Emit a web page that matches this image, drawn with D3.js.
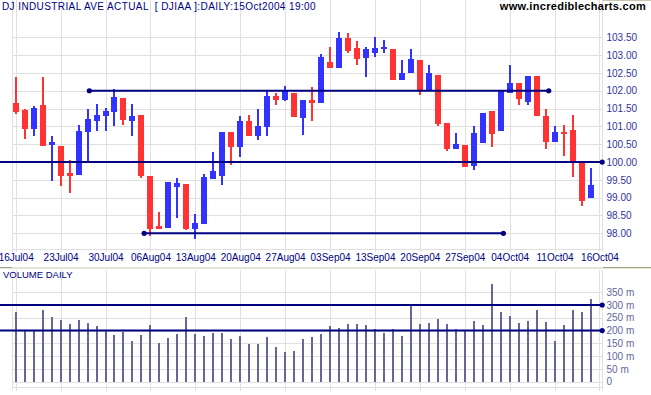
<!DOCTYPE html>
<html>
<head>
<meta charset="utf-8">
<script src="https://cdn.jsdelivr.net/npm/d3@7"></script>
<style>
    body { margin: 0; background: #fff; }
    svg { display: block; font-family: Arial, "Liberation Sans", sans-serif; }
</style>
</head>
<body>
<svg id="chart" width="651" height="395"></svg>
<script>
// trading day index of each week gridline + its label
const tickIndex = [0, 5, 10, 15, 20, 25, 30, 35, 40, 45, 50, 55, 60, 65];
const tickLabels = ["16Jul04", "23Jul04", "30Jul04", "06Aug04", "13Aug04", "20Aug04", "27Aug04",
    "03Sep04", "13Sep04", "20Sep04", "27Sep04", "04Oct04", "11Oct04", "16Oct04"];

// DJIA / 100, daily, 16 Jul 2004 - 15 Oct 2004
const opens = [101.65, 101.46, 100.94, 101.60, 100.47, 100.45, 99.69, 99.64, 100.83, 101.14,
    101.28, 101.39, 101.80, 101.16, 101.31, 99.61, 98.21, 98.16, 99.31, 99.39,
    98.12, 98.26, 99.53, 99.61, 100.85, 100.41, 101.14, 100.74, 100.97, 101.86,
    101.73, 101.95, 101.23, 101.74, 101.65, 102.80, 102.65, 103.48, 103.20, 102.91,
    103.07, 103.17, 103.18, 102.31, 102.49, 102.87, 102.03, 102.45, 101.09, 100.37,
    100.48, 99.90, 100.54, 101.42, 100.86, 101.95, 102.21, 101.68, 102.42, 101.30,
    100.57, 100.84, 100.90, 100.03, 98.98];
const highs = [102.40, 101.49, 101.58, 102.40, 100.73, 100.45, 100.06, 101.04, 101.49, 101.63,
    101.51, 102.05, 101.80, 101.63, 101.31, 99.61, 98.60, 99.45, 99.56, 99.39,
    98.54, 99.67, 100.27, 100.85, 100.85, 101.30, 101.32, 101.49, 101.98, 101.94,
    102.14, 101.95, 101.75, 102.11, 103.03, 103.23, 103.66, 103.63, 103.40, 103.22,
    103.51, 103.43, 103.18, 102.85, 103.18, 102.87, 102.73, 102.45, 101.09, 100.82,
    100.48, 101.01, 101.37, 101.44, 102.00, 102.73, 102.23, 102.42, 102.42, 101.49,
    101.00, 101.04, 101.31, 100.03, 99.84];
const lows = [101.36, 100.66, 100.74, 100.46, 99.48, 99.33, 99.14, 99.64, 99.97, 100.87,
    100.87, 101.02, 101.04, 100.72, 99.56, 97.93, 98.13, 98.16, 98.44, 98.09,
    97.84, 98.26, 99.53, 99.36, 99.92, 100.14, 100.72, 100.62, 100.72, 101.59,
    101.70, 101.25, 100.77, 101.14, 101.65, 102.63, 102.65, 103.07, 102.71, 102.40,
    102.96, 103.07, 102.31, 102.31, 102.49, 101.89, 102.03, 101.00, 100.31, 100.37,
    99.87, 99.78, 100.54, 100.41, 100.86, 101.95, 101.60, 101.60, 101.28, 100.37,
    100.57, 100.18, 99.59, 98.77, 98.98];
const closes = [101.39, 100.94, 101.51, 100.46, 100.55, 99.62, 99.62, 100.87, 101.20, 101.32,
    101.44, 101.82, 101.18, 101.30, 99.62, 98.13, 98.13, 99.45, 99.40, 98.12,
    98.29, 99.57, 99.75, 100.85, 100.41, 101.14, 100.72, 101.00, 101.84, 101.73,
    102.01, 101.25, 101.75, 101.67, 102.95, 102.63, 103.48, 103.12, 102.88, 103.17,
    103.20, 103.22, 102.31, 102.50, 102.90, 102.03, 102.49, 101.07, 100.36, 100.50,
    99.87, 100.81, 101.37, 100.79, 102.00, 102.21, 101.77, 102.42, 101.28, 100.55,
    100.84, 100.78, 100.01, 98.92, 99.36];

// volume, millions
const volumes = [272, 202, 202, 280, 253, 241, 226, 241, 229, 218,
    202, 183, 196, 159, 183, 222, 151, 171, 186, 253,
    186, 179, 190, 190, 167, 179, 147, 147, 175, 136,
    115, 120, 167, 175, 186, 218, 210, 226, 226, 222,
    206, 190, 206, 179, 302, 226, 229, 245, 226, 206,
    202, 237, 222, 382, 272, 257, 229, 237, 280, 233,
    159, 222, 280, 272, 323];

const priceTicks = [98, 98.5, 99, 99.5, 100, 100.5, 101, 101.5, 102, 102.5, 103, 103.5];
const volTicks = [0, 50, 100, 150, 200, 250, 300, 350];

// horizontal lines drawn on the chart (from / to in trading day index)
const priceLines = [
    {value: 102, from: 8.2, to: 59.35, startDot: true},
    {value: 100, from: -1.75, to: 65.3, startDot: false},
    {value: 98, from: 14.3, to: 54.3, startDot: true}
];
const volLines = [
    {value: 300, from: -1.75, to: 65.3, startDot: false},
    {value: 200, from: -1.75, to: 65.3, startDot: false}
];

const navy = "#000080";
const grid = "#e0e0e0";
const plotLeft = 12.5, plotRight = 602.5;
const priceBottom = 249, volTop = 270, volBottom = 386.5;

var svg = d3.select("#chart");

var x = d3.scaleLinear().domain([0, 64]).range([15.7, 590.5]);
var yPrice = d3.scaleLinear().domain([98, 103.5]).range([233.3, 37.3]);
var yVol = d3.scaleLinear().domain([0, 350]).range([381.7, 292.2]);

var candles = d3.range(opens.length).map(i => ({
    i: i, o: opens[i], h: highs[i], l: lows[i], c: closes[i], v: volumes[i]
}));

// ---- grids
var g = svg.append("g").attr("shape-rendering", "crispEdges");

g.selectAll(".vgrid").data(tickIndex).enter().append("line")
    .attr("x1", d => Math.round(x(d)) + 0.5).attr("x2", d => Math.round(x(d)) + 0.5)
    .attr("y1", 0).attr("y2", priceBottom + 3)
    .attr("stroke", grid);
g.selectAll(".vgrid2").data(tickIndex).enter().append("line")
    .attr("x1", d => Math.round(x(d)) + 0.5).attr("x2", d => Math.round(x(d)) + 0.5)
    .attr("y1", volTop).attr("y2", volBottom + 4)
    .attr("stroke", grid);

g.selectAll(".hgrid").data(priceTicks).enter().append("line")
    .attr("x1", plotLeft).attr("x2", plotRight)
    .attr("y1", d => Math.round(yPrice(d)) + 0.5).attr("y2", d => Math.round(yPrice(d)) + 0.5)
    .attr("stroke", grid);
g.selectAll(".hgrid2").data(volTicks).enter().append("line")
    .attr("x1", plotLeft).attr("x2", plotRight)
    .attr("y1", d => Math.round(yVol(d)) + 0.5).attr("y2", d => Math.round(yVol(d)) + 0.5)
    .attr("stroke", grid);

// frames
[[0, priceBottom], [volTop, volBottom]].forEach(function (p) {
    g.append("line").attr("x1", plotLeft).attr("x2", plotLeft).attr("y1", p[0]).attr("y2", p[1] + 3).attr("stroke", grid);
    g.append("line").attr("x1", plotRight).attr("x2", plotRight).attr("y1", p[0]).attr("y2", p[1] + 3).attr("stroke", grid);
    g.append("line").attr("x1", plotLeft).attr("x2", plotRight).attr("y1", p[1] + 0.5).attr("y2", p[1] + 0.5).attr("stroke", grid);
});

// panel separator
g.append("rect").attr("x", 0).attr("y", 267).attr("width", 651).attr("height", 2).attr("fill", "#e4e4d8");
g.append("rect").attr("x", 0).attr("y", 267).attr("width", 12).attr("height", 1).attr("fill", "#a8a488");
g.append("rect").attr("x", 603).attr("y", 267).attr("width", 48).attr("height", 1).attr("fill", "#a8a488");
g.append("rect").attr("x", 603).attr("y", 0).attr("width", 48).attr("height", 1).attr("fill", "#c8c4b0");

// ---- volume bars
svg.append("g").attr("shape-rendering", "crispEdges")
    .selectAll("rect").data(candles).enter().append("rect")
    .attr("x", d => Math.round(x(d.i)) - 1)
    .attr("width", 2)
    .attr("y", d => yVol(d.v))
    .attr("height", d => yVol(0) - yVol(d.v))
    .attr("fill", "#666699");

// ---- candles
var cg = svg.append("g").attr("shape-rendering", "crispEdges");
var candle = cg.selectAll("g").data(candles).enter().append("g")
    .attr("fill", d => d.c < d.o ? "#ff3333" : "#3333ff");

candle.append("rect")
    .attr("x", d => Math.round(x(d.i)) - 1)
    .attr("width", 2)
    .attr("y", d => yPrice(d.h))
    .attr("height", d => Math.max(1, yPrice(d.l) - yPrice(d.h)));

candle.append("rect")
    .attr("x", d => Math.round(x(d.i)) - 3)
    .attr("width", 6)
    .attr("y", d => yPrice(Math.max(d.o, d.c)))
    .attr("height", d => Math.max(2, Math.abs(yPrice(d.o) - yPrice(d.c))));

// ---- horizontal lines
function drawLines(lines, yScale) {
    var lg = svg.append("g");
    lg.selectAll("line").data(lines).enter().append("line")
        .attr("x1", d => x(d.from)).attr("x2", d => x(d.to))
        .attr("y1", d => yScale(d.value)).attr("y2", d => yScale(d.value))
        .attr("stroke", navy).attr("stroke-width", 2);
    lg.selectAll(".end").data(lines).enter().append("circle")
        .attr("cx", d => x(d.to)).attr("cy", d => yScale(d.value))
        .attr("r", 2.6).attr("fill", navy);
    lg.selectAll(".start").data(lines.filter(d => d.startDot)).enter().append("circle")
        .attr("cx", d => x(d.from)).attr("cy", d => yScale(d.value))
        .attr("r", 2.6).attr("fill", navy);
}
drawLines(priceLines, yPrice);
drawLines(volLines, yVol);

// ---- axes
var yAxis = d3.axisRight(yPrice).tickValues(priceTicks).tickFormat(d3.format(".2f"))
    .tickSize(0).tickPadding(4);
var ya = svg.append("g").attr("transform", "translate(" + plotRight + ",0)").call(yAxis);
ya.select(".domain").remove();
ya.selectAll("text").attr("fill", "#333399").attr("font-size", "10px")
    .attr("font-family", "Arial, 'Liberation Sans', sans-serif");

var vAxis = d3.axisRight(yVol).tickValues(volTicks).tickFormat(d => d === 0 ? "0" : d + " m")
    .tickSize(0).tickPadding(4);
var va = svg.append("g").attr("transform", "translate(" + plotRight + ",0)").call(vAxis);
va.select(".domain").remove();
va.selectAll("text").attr("fill", "#666699").attr("font-size", "10px")
    .attr("font-family", "Arial, 'Liberation Sans', sans-serif");

var xAxis = d3.axisBottom(x).tickValues(tickIndex).tickFormat((d, i) => tickLabels[i])
    .tickSize(0).tickPadding(4);
var xa = svg.append("g").attr("transform", "translate(0," + (priceBottom + 1) + ")").call(xAxis);
xa.select(".domain").remove();
xa.selectAll("text").attr("fill", navy).attr("font-size", "10px")
    .attr("font-family", "Arial, 'Liberation Sans', sans-serif");

// ---- titles
svg.append("text")
    .attr("x", 2).attr("y", 10)
    .attr("fill", navy).attr("font-size", "10px").attr("letter-spacing", "0.4px")
    .text("DJ INDUSTRIAL AVE ACTUAL  [ DJIAA ]:DAILY:15Oct2004 19:00")
    .style("white-space", "pre");

svg.append("text")
    .attr("x", 646).attr("y", 10)
    .attr("text-anchor", "end")
    .attr("fill", "#000").attr("font-size", "11px").attr("font-weight", "bold")
    .attr("letter-spacing", "0.3px")
    .text("www.incrediblecharts.com");

svg.append("text")
    .attr("x", 3).attr("y", 278)
    .attr("fill", navy).attr("font-size", "9.5px")
    .text("VOLUME DAILY");
</script>
</body>
</html>
